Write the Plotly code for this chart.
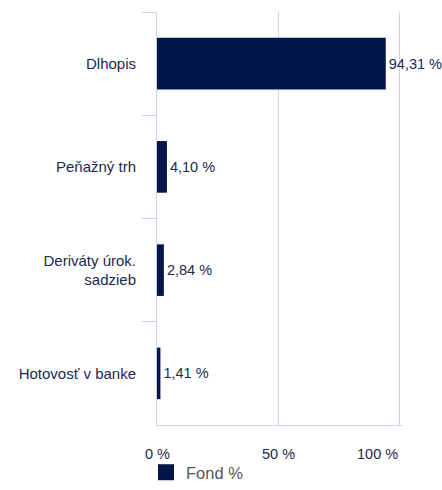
import plotly.graph_objects as go

categories = ["Dlhopis", "Peňažný trh", "Deriváty úrok.<br>sadzieb", "Hotovosť v banke"]
values = [94.31, 4.10, 2.84, 1.41]
labels = ["94,31 %", "4,10 %", "2,84 %", "1,41 %"]
tick_vals = [0, 50, 100]
tick_text = ["0 %", "50 %", "100 %"]
tick_anchor = ["center", "center", "right"]

navy = "#03164a"
txt = "#1b2a4e"
grid = "#c9d5e5"

fig = go.Figure(go.Bar(
    y=categories, x=values, orientation="h", name="Fond %",
    marker=dict(color=navy, line=dict(width=0)),
    text=labels, textposition="outside", cliponaxis=False,
    textfont=dict(color=txt, size=14.5), showlegend=False,
))
# legend-only swatch
fig.add_trace(go.Scatter(
    x=[None], y=[None], mode="markers", name="Fond %",
    marker=dict(symbol="square", color=navy, size=22),
))
for v, t, a in zip(tick_vals, tick_text, tick_anchor):
    fig.add_annotation(x=v, xref="x", y=-0.045, yref="paper", text=t,
                       showarrow=False, xanchor=a, yanchor="top",
                       font=dict(size=14.5, color=txt))
fig.update_layout(
    width=442, height=490,
    margin=dict(l=157, r=40, t=12, b=65, autoexpand=False),
    paper_bgcolor="white", plot_bgcolor="white",
    font=dict(family="Liberation Sans, Arial, sans-serif", size=15, color=txt),
    bargap=0.5,
    xaxis=dict(range=[0, 101], tickvals=tick_vals, showticklabels=False,
               showgrid=True, gridcolor=grid, gridwidth=1,
               showline=True, linecolor=grid, zeroline=False, ticks=""),
    yaxis=dict(autorange="reversed", showline=True, linecolor=grid, linewidth=1,
               ticks="outside", tickson="boundaries", ticklen=14, tickcolor=grid,
               showgrid=False, ticklabelstandoff=17, tickfont=dict(size=15)),
    legend=dict(orientation="h", x=-0.045, xanchor="left", yref="container", y=-0.028, yanchor="bottom",
                font=dict(size=16.5, color="#555"), itemsizing="trace"),
)
fig.write_html("out.html")
